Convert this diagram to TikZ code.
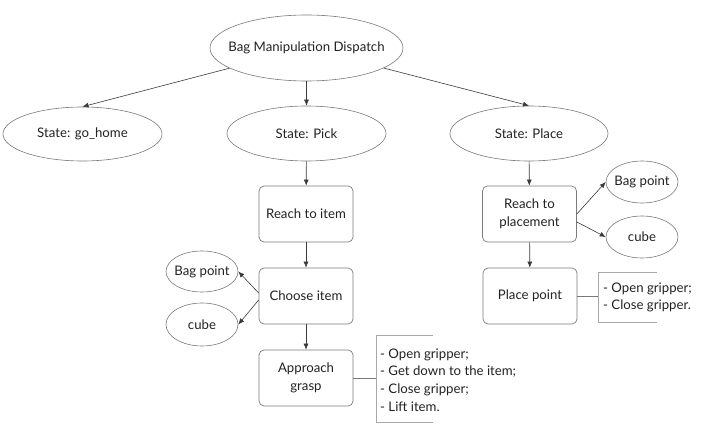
\documentclass[tikz,border=0pt]{standalone}
\usepackage{fontspec}
\setmainfont{Lato}
\usetikzlibrary{shapes.geometric,arrows.meta}
\definecolor{txt}{HTML}{222222}
\definecolor{shapeline}{HTML}{7A7A7A}
\definecolor{arrowline}{HTML}{3A3A3A}
\definecolor{bracketline}{HTML}{A8A8A8}
\tikzset{
  every node/.style={text=txt, font=\fontsize{13.2}{17.7}\selectfont},
  oval/.style={ellipse, draw=shapeline, line width=0.6pt, inner xsep=-25pt, inner ysep=-5pt},
  stepbox/.style={rectangle, rounded corners=5pt, draw=shapeline, line width=0.7pt, minimum width=94pt, minimum height=56pt, inner sep=0pt, align=center},
  arr/.style={draw=arrowline, line width=0.6pt, -{Latex[length=6pt,width=5pt]}},
  brk/.style={draw=bracketline, line width=0.8pt},
  link/.style={draw=shapeline, line width=0.6pt},
  note/.style={anchor=west, align=left, inner sep=0pt}
}
\begin{document}
\begin{tikzpicture}[x=1pt,y=-1pt]
\useasboundingbox (0,0) rectangle (706,430);
% main tree
\node[oval, minimum width=193pt, minimum height=66pt] (top) at (306.5,48) {Bag Manipulation Dispatch};
\node[oval, minimum width=159pt, minimum height=54pt] (gohome) at (82.5,134) {State: go\_home};
\node[oval, minimum width=159pt, minimum height=55pt] (pick) at (306.5,133.5) {State: Pick};
\node[oval, minimum width=158pt, minimum height=55pt] (place) at (529,133.5) {State: Place};
% pick branch
\node[stepbox] (reach) at (306,214) {Reach to item};
\node[stepbox] (choose) at (306,296) {Choose item};
\node[stepbox] (approach) at (306,378) {Approach\\grasp};
\node[oval, minimum width=72pt, minimum height=41pt] (bagL) at (202,271.5) {Bag point};
\node[oval, minimum width=72pt, minimum height=43pt] (cubeL) at (202,324.5) {cube};
% place branch
\node[stepbox] (reachP) at (529.5,214) {Reach to\\placement};
\node[stepbox] (placept) at (530,296) {Place point};
\node[oval, minimum width=72pt, minimum height=42pt] (bagR) at (642,182) {Bag point};
\node[oval, minimum width=72pt, minimum height=42pt] (cubeR) at (642,237) {cube};
% notes
\node[note] (noteP) at (603,297.5) {- Open gripper;\\- Close gripper.};
\node[note] (noteA) at (380,380) {- Open gripper;\\- Get down to the item;\\- Close gripper;\\- Lift item.};
% connectors
\draw[arr] (top) -- (gohome.north);
\draw[arr] (top) -- (pick.north);
\draw[arr] (top) -- (place.north);
\draw[arr] (pick) -- (reach);
\draw[arr] (reach) -- (choose);
\draw[arr] (choose) -- (approach);
\draw[arr] (place) -- (reachP);
\draw[arr] (reachP) -- (placept);
\draw[arr] ([yshift=3pt]choose.west) -- (bagL.east);
\draw[arr] ([yshift=-4pt]choose.west) -- (cubeL.east);
\draw[arr] (reachP.east) -- (bagR.west);
\draw[arr] ([yshift=-8pt]reachP.east) -- (cubeR.west);
% brackets
\coordinate (bPm) at (598,296);
\coordinate (bPt) at (598,272);
\coordinate (bPb) at (598,322);
\draw[link] (placept.east) -- (bPm);
\draw[brk] ([xshift=59pt]bPt) -- (bPt) -- (bPb) -- ([xshift=59pt]bPb);
\coordinate (bAm) at (376,378);
\coordinate (bAt) at (376,335);
\coordinate (bAb) at (376,422);
\draw[link] (approach.east) -- (bAm);
\draw[brk] ([xshift=57pt]bAt) -- (bAt) -- (bAb) -- ([xshift=57pt]bAb);
\end{tikzpicture}
\end{document}
